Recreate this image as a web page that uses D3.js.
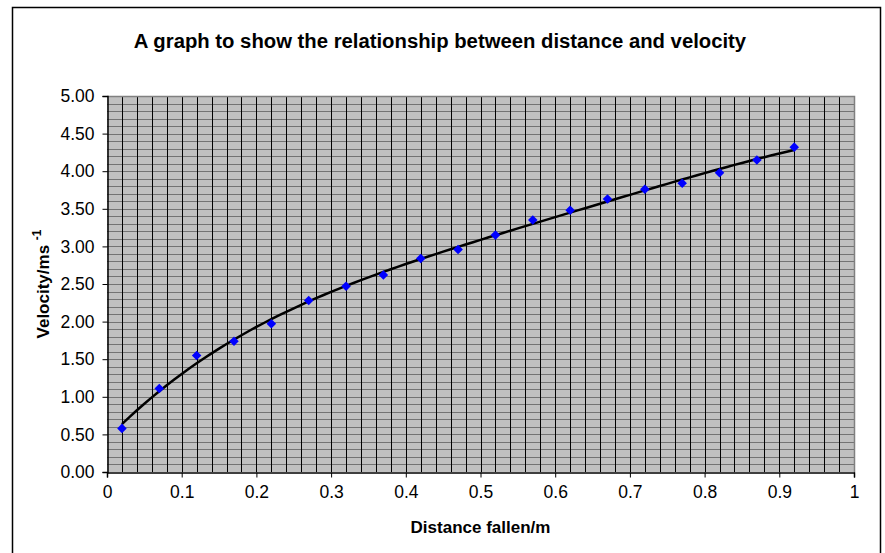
<!DOCTYPE html>
<html lang="en">
<head>
<meta charset="utf-8">
<title>Distance and velocity</title>
<script src="https://d3js.org/d3.v7.min.js"></script>
<style>
  body { margin: 0; background: #fff; }
  text { font-family: "Liberation Sans", Arial, sans-serif; }
</style>
</head>
<body>
<svg id="chart" width="885" height="553"></svg>
<script>
// data
var distance = [0.02, 0.07, 0.12, 0.17, 0.22, 0.27, 0.32, 0.37, 0.42, 0.47,
                0.52, 0.57, 0.62, 0.67, 0.72, 0.77, 0.82, 0.87, 0.92];
var velocity = [0.58, 1.11, 1.55, 1.74, 1.97, 2.28, 2.47, 2.62, 2.84, 2.96,
                3.15, 3.35, 3.48, 3.63, 3.76, 3.84, 3.98, 4.15, 4.32];
var xTicks = [0, 0.1, 0.2, 0.3, 0.4, 0.5, 0.6, 0.7, 0.8, 0.9, 1];
var yTicks = [0, 0.5, 1, 1.5, 2, 2.5, 3, 3.5, 4, 4.5, 5];
var trendOrder = 4; // polynomial trendline

var svg = d3.select("#chart");

// outer chart border (bottom edge runs off the picture)
svg.append("rect")
  .attr("x", 12.5).attr("y", 7.5)
  .attr("width", 868).attr("height", 560)
  .attr("fill", "#fff").attr("stroke", "#000").attr("stroke-width", 1.5);

var margin = {left: 107, right: 31, top: 96, bottom: 81};
var x = d3.scaleLinear().domain([0, 1]).range([margin.left, 885 - margin.right]);
var y = d3.scaleLinear().domain([0, 5]).range([553 - margin.bottom, margin.top]);

// plot area
svg.append("rect")
  .attr("x", x(0)).attr("y", y(5))
  .attr("width", x(1) - x(0)).attr("height", y(0) - y(5))
  .attr("fill", "#c0c0c0");

// horizontal gridlines every 0.1
svg.append("g").selectAll("line")
  .data(d3.range(1, 50).map(function(i) { return i / 10; }))
  .enter().append("line")
  .attr("x1", x(0)).attr("x2", x(1))
  .attr("y1", function(d) { return Math.round(y(d)) + 0.5; })
  .attr("y2", function(d) { return Math.round(y(d)) + 0.5; })
  .attr("stroke", "#737373").attr("stroke-width", 1);

// vertical gridlines every 0.02
svg.append("g").selectAll("line")
  .data(d3.range(1, 50).map(function(i) { return i / 50; }))
  .enter().append("line")
  .attr("x1", function(d) { return Math.round(x(d)) + 0.5; })
  .attr("x2", function(d) { return Math.round(x(d)) + 0.5; })
  .attr("y1", y(5)).attr("y2", y(0))
  .attr("stroke", "#000").attr("stroke-width", 1);

// plot border (top & right)
svg.append("path")
  .attr("d", "M" + x(0) + "," + (y(5) + 0.5) + "H" + (x(1) + 0.5) + "V" + y(0))
  .attr("fill", "none").attr("stroke", "#808080").attr("stroke-width", 1.5);

// axes
var yAxis = svg.append("g")
  .attr("transform", "translate(" + (x(0) + 0.5) + ",0)")
  .call(d3.axisLeft(y).tickValues(yTicks).tickFormat(d3.format(".2f")).tickSize(5).tickPadding(8));
var xAxis = svg.append("g")
  .attr("transform", "translate(0," + (y(0) + 0.5) + ")")
  .call(d3.axisBottom(x).tickValues(xTicks).tickFormat(d3.format("")).tickSize(5).tickPadding(8));
[xAxis, yAxis].forEach(function(a) {
  a.select(".domain").attr("stroke", "#000").attr("stroke-width", 1.5);
  a.selectAll(".tick line").attr("stroke", "#000");
  a.selectAll("text").attr("font-size", 17.5).attr("fill", "#000")
    .attr("font-family", "Liberation Sans, Arial, sans-serif");
});

// polynomial least-squares trendline fitted to the points
function polyfit(xs, ys, k) {
  var n = k + 1, A = [], i, j, r;
  for (i = 0; i < n; i++) {
    A.push([]);
    for (j = 0; j < n; j++) A[i].push(d3.sum(xs, function(v) { return Math.pow(v, i + j); }));
    A[i].push(d3.sum(xs, function(v, m) { return Math.pow(v, i) * ys[m]; }));
  }
  for (i = 0; i < n; i++) {
    for (r = i + 1; r < n; r++) {
      var f = A[r][i] / A[i][i];
      for (j = i; j <= n; j++) A[r][j] -= f * A[i][j];
    }
  }
  var c = new Array(n);
  for (i = n - 1; i >= 0; i--) {
    var s = A[i][n];
    for (j = i + 1; j < n; j++) s -= A[i][j] * c[j];
    c[i] = s / A[i][i];
  }
  return function(v) { return d3.sum(c, function(cv, p) { return cv * Math.pow(v, p); }); };
}
var trend = polyfit(distance, velocity, trendOrder);
var x0 = distance[0], x1 = distance[distance.length - 1];
var fitX = d3.range(0, 91).map(function(i) { return x0 + i * (x1 - x0) / 90; });
svg.append("path")
  .datum(fitX)
  .attr("fill", "none").attr("stroke", "#000").attr("stroke-width", 2.5)
  .attr("d", d3.line()
    .x(function(d) { return x(d); })
    .y(function(d) { return y(trend(d)); }));

// data points: blue diamonds
svg.append("g").selectAll("path")
  .data(distance)
  .enter().append("path")
  .attr("transform", function(d, i) { return "translate(" + x(d) + "," + y(velocity[i]) + ")"; })
  .attr("d", d3.symbol().type(d3.symbolDiamond2).size(58))
  .attr("fill", "#0000ff");

// titles
svg.append("text")
  .attr("x", 440).attr("y", 48)
  .attr("text-anchor", "middle")
  .attr("font-size", 20.3).attr("font-weight", "bold")
  .text("A graph to show the relationship between distance and velocity");

svg.append("text")
  .attr("x", x(0.5)).attr("y", 533)
  .attr("text-anchor", "middle")
  .attr("font-size", 17).attr("font-weight", "bold")
  .text("Distance fallen/m");

var yt = svg.append("text")
  .attr("transform", "translate(49," + y(2.5) + ") rotate(-90)")
  .attr("text-anchor", "middle")
  .attr("font-size", 17).attr("font-weight", "bold");
yt.append("tspan").text("Velocity/ms ");
yt.append("tspan").attr("font-size", 12).attr("dy", -8).text("-1");
</script>
</body>
</html>
